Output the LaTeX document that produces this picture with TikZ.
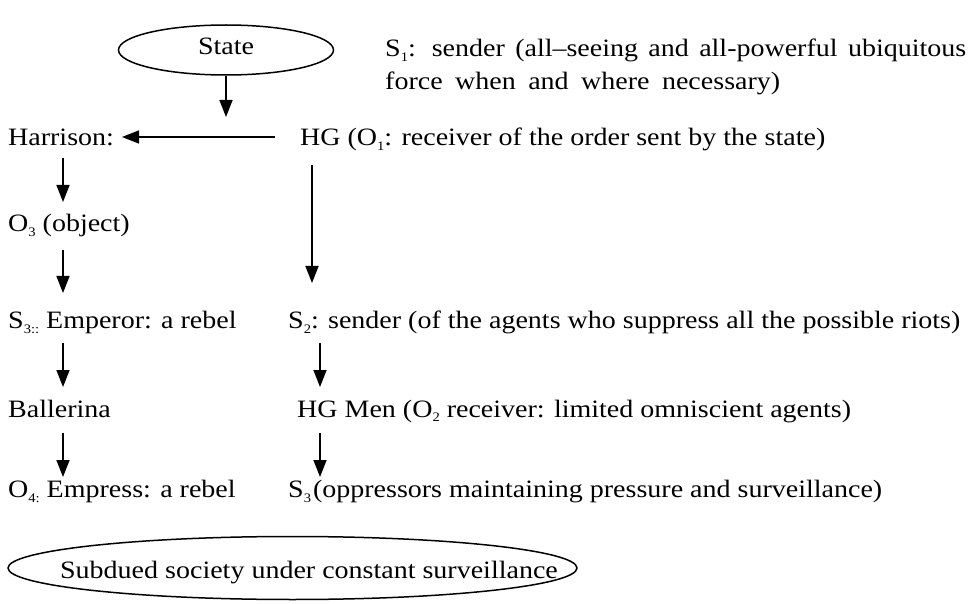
\documentclass[tikz,border=0pt]{standalone}
\usepackage{fontspec}
\setmainfont{Liberation Serif}[FakeStretch=1.12]
\usetikzlibrary{shapes.geometric,arrows.meta,calc}
\newcommand\sbs[1]{\raisebox{-5pt}{\fontsize{13}{13}\selectfont #1}}
\begin{document}
\begin{tikzpicture}[x=1pt,y=-1pt,
  txt/.style={anchor=base west,inner sep=0pt,font=\fontsize{25}{30}\selectfont},
  oval/.style={draw,ellipse,line width=1.5pt,inner sep=0pt,font=\fontsize{25}{30}\selectfont},
  ovl/.style={draw,line width=1.5pt},
  arr/.style={line width=1.6pt,-{Triangle[length=17pt,width=13pt]}}]
\useasboundingbox (0,0) rectangle (978,604);
\node[oval,minimum width=215pt,minimum height=50pt,text height=17pt,text depth=7pt] (state) at (226,50) {State};
\node[txt] (s1a) at (385,57) {\makebox[581pt][s]{S\sbs{1}: sender (all–seeing and all-powerful ubiquitous}};
\node[txt] (s1b) at (385,90) {\makebox[395pt][s]{force when and where necessary)}};
\node[txt] (harrison) at (8,146) {Harrison:};
\node[txt] (hg) at (300,146) {HG (O\sbs{1}: receiver of the order sent by the state)};
\node[txt] (o3) at (8,232) {O\sbs{3} (object)};
\node[txt] (s3l) at (8,329) {S\sbs{3::} Emperor: a rebel};
\node[txt] (s2) at (288,329) {S\sbs{2}: sender (of the agents who suppress all the possible riots)};
\node[txt] (ball) at (8,417) {Ballerina};
\node[txt] (hgmen) at (297,417) {HG Men (O\sbs{2} receiver: limited omniscient agents)};
\node[txt] (o4) at (8,497) {O\sbs{4:} Empress: a rebel};
\node[txt] (s3r) at (288,497) {S\sbs{3}\kern2pt(oppressors maintaining pressure and surveillance)};
\node[inner sep=0pt,text height=20pt,text depth=0pt,font=\fontsize{25}{30}\selectfont] (soc) at (309,568) {Subdued society under constant surveillance};
\draw[ovl] (292.5,568) ellipse [x radius=284.5pt, y radius=31.5pt];
\coordinate (cl) at (63,0);
\coordinate (cr) at (320,0);
\coordinate (cm) at (312,0);
\draw[arr] (state.south) -- ($(state.south |- hg.base)+(0,-29)$);
\draw[arr] ($(hg.base west)+(-25,-9)$) -- ($(harrison.base west)+(114,-9)$);
\draw[arr] ($(harrison.base -| cl)+(0,12)$) -- ($(o3.base -| cl)+(0,-30)$);
\draw[arr] ($(o3.base -| cl)+(0,18)$) -- ($(s3l.base -| cl)+(0,-36)$);
\draw[arr] ($(s3l.base -| cl)+(0,14)$) -- ($(ball.base -| cl)+(0,-30)$);
\draw[arr] ($(ball.base -| cl)+(0,16)$) -- ($(o4.base -| cl)+(0,-20)$);
\draw[arr] ($(hg.base -| cm)+(0,19)$) -- ($(s2.base -| cm)+(0,-46)$);
\draw[arr] ($(s2.base -| cr)+(0,14)$) -- ($(hgmen.base -| cr)+(0,-30)$);
\draw[arr] ($(hgmen.base -| cr)+(0,16)$) -- ($(s3r.base -| cr)+(0,-20)$);
\end{tikzpicture}
\end{document}
